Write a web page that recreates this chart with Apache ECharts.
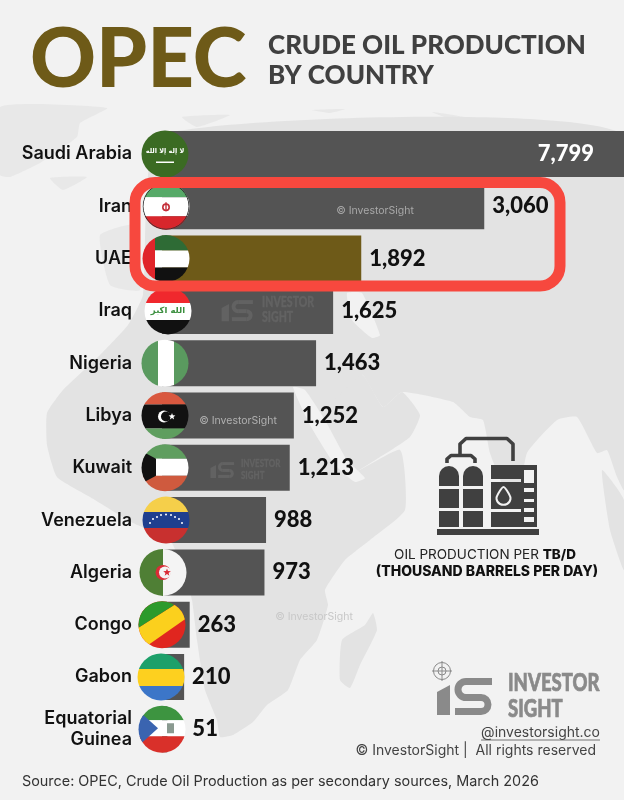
<!DOCTYPE html>
<html>
<head>
<meta charset="utf-8">
<style>
  html, body { margin: 0; padding: 0; background: #f2f2f2; }
  #chart { width: 624px; height: 800px; }
</style>
<script src="https://cdn.jsdelivr.net/npm/echarts@6/dist/echarts.min.js"></script>
</head>
<body>
<div id="chart"></div>
<script>
// Data (thousand barrels per day, March 2026)
const categories = ['Saudi Arabia', 'Iran', 'UAE', 'Iraq', 'Nigeria', 'Libya', 'Kuwait',
    'Venezuela', 'Algeria', 'Congo', 'Gabon', 'Equatorial\nGuinea'];
const values = [7799, 3060, 1892, 1625, 1463, 1252, 1213, 988, 973, 263, 210, 51];
// The Saudi bar runs off the page in the original, so the axis stops short of it
const axisMax = 4387;

const LABEL_FONT = 'Inter';
const NUMBER_FONT = 'Lato';
const BAR_GREY = '#545454';
const BROWN = '#6e5a18';
const LAND = '#e3e3e3';
const SEA = '#f2f2f2';

// Flags sit a little off the axis zero, the original was placed by hand
const flagShift = [3, 4, 4, 6, 3, 3, 3, 4, 1, 0, -1, 0];
const FLAG_R = 23.5;

function star(cx, cy, r, fill) {
    let pts = [];
    for (let i = 0; i < 10; i++) {
        let rad = i % 2 ? r * 0.42 : r;
        let a = -Math.PI / 2 + i * Math.PI / 5;
        pts.push([cx + rad * Math.cos(a), cy + rad * Math.sin(a)]);
    }
    return { type: 'polygon', shape: { points: pts }, style: { fill: fill || '#fff' } };
}

function band(y1, y2, fill) {
    return { type: 'rect', shape: { x: -25, y: y1, width: 50, height: y2 - y1 }, style: { fill: fill } };
}

function vband(x1, x2, fill) {
    return { type: 'rect', shape: { x: x1, y: -25, width: x2 - x1, height: 50 }, style: { fill: fill } };
}

function disc(cx, cy, r, fill) {
    return { type: 'circle', shape: { cx: cx, cy: cy, r: r }, style: { fill: fill } };
}

function poly(points, fill) {
    return { type: 'polygon', shape: { points: points }, style: { fill: fill } };
}

function flagText(text, y, size, fill) {
    return { type: 'text', x: 0, y: y, style: { text: text, fontSize: size, fill: fill,
        fontFamily: 'DejaVu Sans', fontWeight: 'bold', textAlign: 'center', textVerticalAlign: 'middle' } };
}

// One small drawing per country, in the same order as categories
const flagDrawings = [
    () => [band(-25, 25, '#3b6b23'), flagText('لا إله إلا الله', -3, 6.5, '#fff'),
        { type: 'rect', shape: { x: -9, y: 7.5, width: 18, height: 1.4 }, style: { fill: '#fff' } }],
    () => [band(-25, -9, '#57a968'), band(-9, 10, '#fff'), band(10, 25, '#d8262c'),
        { type: 'ring', shape: { cx: 0, cy: 1, r: 4, r0: 2.4 }, style: { fill: '#c4303a' } },
        { type: 'rect', shape: { x: -0.7, y: -4, width: 1.4, height: 9 }, style: { fill: '#c4303a' } },
        { type: 'circle', shape: { cx: 0, cy: 0, r: FLAG_R - 0.5 }, style: { fill: 'none', stroke: '#333', lineWidth: 1 } }],
    () => [vband(-25, -11, '#e0252b'), { type: 'rect', shape: { x: -11, y: -25, width: 36, height: 17 }, style: { fill: '#2e6b35' } },
        { type: 'rect', shape: { x: -11, y: -8, width: 36, height: 17 }, style: { fill: '#fff' } },
        { type: 'rect', shape: { x: -11, y: 9, width: 36, height: 16 }, style: { fill: '#111' } }],
    () => [band(-25, -8, '#f0282d'), band(-8, 9, '#fff'), band(9, 25, '#111'), flagText('الله اكبر', 0, 8.5, '#3c8f3f')],
    () => [vband(-25, -7, '#5a9a5f'), vband(-7, 9, '#fff'), vband(9, 25, '#5a9a5f')],
    () => [band(-25, -11, '#d9583f'), band(-11, 13, '#111'), band(13, 25, '#5f9e5f'),
        disc(-1, 1, 6, '#fff'), disc(1, 1, 5, '#111'), star(7, 1, 3.6)],
    () => [band(-25, -9, '#5f9e5f'), band(-9, 8, '#fff'), band(8, 25, '#cf5a3e'),
        poly([[-25, -17], [-24, -17], [-9, -9], [-9, 8], [-24, 16], [-25, 16]], '#111')],
    () => [band(-25, -8, '#f5cf4a'), band(-8, 8, '#1f3f8f'), band(8, 25, '#c8302f'),
        disc(-16, 3, 1, '#fff'), disc(-13, -1, 1, '#fff'), disc(-9, -3, 1, '#fff'), disc(-5, -5, 1, '#fff'),
        disc(0, -5.5, 1, '#fff'), disc(5, -5, 1, '#fff'), disc(9, -3, 1, '#fff'), disc(13, -1, 1, '#fff'), disc(16, 3, 1, '#fff')],
    () => [vband(-25, 0, '#4f7f35'), vband(0, 25, '#f4f4f4'), disc(0, 0, 7.5, '#d92d36'),
        disc(2, 0, 6, '#f4f4f4'), star(4, 0, 4, '#d92d36')],
    () => [poly([[-25, -25], [25, -25], [25, 25], [-25, 25]], '#e0261f'),
        poly([[-25, 4], [11, -19], [25, -25], [25, -7], [-12, 19], [-25, 25]], '#fbd01d'),
        poly([[-25, -25], [16, -25], [11, -19], [-22, 2], [-25, 4]], '#2c9a2c')],
    () => [band(-25, -8, '#1da06a'), band(-8, 9, '#fdd01f'), band(9, 25, '#3c76c8')],
    () => [band(-25, -9, '#3d9440'), band(-9, 7, '#fff'), band(7, 25, '#d9302a'),
        poly([[-25, -19], [-24, -19], [-4, -1], [-24, 17], [-25, 17]], '#3a64b0'),
        { type: 'rect', shape: { x: 5, y: -6, width: 7, height: 10 }, style: { fill: '#8a9a90' } }]
];

function renderFlag(params, api) {
    const i = api.value(1);
    const centre = api.coord([0, i]);
    return {
        type: 'group',
        x: centre[0] + flagShift[i],
        y: centre[1],
        clipPath: { type: 'circle', shape: { cx: 0, cy: 0, r: FLAG_R } },
        children: flagDrawings[i]()
    };
}

// The InvestorSight mark, drawn at 163px wide and scaled for the watermarks
function logo(x, y, scale, color, withTarget) {
    const stroke = { fill: 'none', stroke: color, lineWidth: 7 };
    const word = (text, top) => ({ type: 'text', x: 72, y: top, scaleX: 0.74,
        style: { text: text, fontFamily: 'Lato', fontWeight: 900, fontSize: 25, fill: color, stroke: color, lineWidth: 0.7 } });
    let kids = [
        poly([[1, 22], [14, 15], [14, 45], [1, 45]], color),
        { type: 'polyline', shape: { points: [[56, 11.5], [30, 11.5]] }, style: stroke },
        { type: 'arc', shape: { cx: 30, cy: 19.5, r: 8, startAngle: Math.PI / 2, endAngle: -Math.PI / 2, clockwise: true }, style: stroke },
        { type: 'polyline', shape: { points: [[30, 27.5], [45, 27.5]] }, style: stroke },
        { type: 'arc', shape: { cx: 45, cy: 34.5, r: 7, startAngle: -Math.PI / 2, endAngle: Math.PI / 2, clockwise: true }, style: stroke },
        { type: 'polyline', shape: { points: [[45, 41.5], [19, 41.5]] }, style: stroke },
        word('INVESTOR', 0),
        word('SIGHT', 26)
    ];
    if (withTarget) {
        const thin = { fill: 'none', stroke: color, lineWidth: 1 };
        kids.push({ type: 'circle', shape: { cx: 6, cy: 1, r: 8.5 }, style: thin });
        kids.push({ type: 'circle', shape: { cx: 6, cy: 1, r: 4 }, style: thin });
        kids.push({ type: 'line', shape: { x1: -4, y1: 1, x2: 16, y2: 1 }, style: thin });
        kids.push({ type: 'line', shape: { x1: 6, y1: -9, x2: 6, y2: 11 }, style: thin });
    }
    kids.forEach(k => { k.z = 40; });
    return { type: 'group', x: x, y: y, scaleX: scale, scaleY: scale, children: kids };
}

function note(text, x, y, size, fill, align) {
    return { type: 'text', x: x, y: y, z: 40, style: { text: text, fontSize: size, fill: fill, fontFamily: LABEL_FONT,
        textAlign: align || 'left', textVerticalAlign: 'middle' } };
}

function land(points, fill) {
    return { type: 'polygon', z: -10, shape: { points: points, smooth: 0.15 }, style: { fill: fill || LAND } };
}

// Faint world map behind the chart
const mapShapes = [
    land([[0, 107], [107, 108], [80, 123], [77, 137], [40, 163], [10, 177], [0, 175]], '#e8e8e8'),
    land([[50, 178], [87, 177], [63, 190]], '#e8e8e8'),
    land([[182, 117], [230, 115], [197, 127]], '#e8e8e8'),
    land([[312, 110], [345, 109], [330, 113]], '#e8e8e8'),
    land([[432, 112], [470, 118], [515, 130], [470, 126]], '#e8e8e8'),
    land([[100, 235], [135, 225], [140, 290], [110, 285]], '#e8e8e8'),
    land([[160, 135], [624, 135], [624, 490], [617, 477], [607, 450], [597, 453], [577, 417], [557, 420], [527, 453],
        [518, 500], [505, 490], [490, 453], [483, 420], [470, 417], [453, 402], [402, 392], [383, 407], [362, 375],
        [343, 477], [400, 450], [405, 510], [370, 540], [345, 560], [325, 590], [328, 605], [317, 640], [300, 660],
        [288, 690], [267, 705], [253, 722], [233, 735], [220, 737], [217, 720], [205, 690], [197, 640], [192, 600],
        [185, 575], [170, 540], [133, 523], [90, 497], [57, 477], [47, 445], [47, 413], [63, 390], [100, 355], [128, 325], [143, 295]]),
    land([[362, 375], [383, 407], [402, 392], [420, 415], [410, 437], [380, 457], [343, 477], [320, 420]]),
    land([[347, 293], [362, 293], [380, 335], [372, 338], [352, 320]], SEA),
    land([[293, 387], [305, 390], [325, 420], [347, 460], [365, 478], [355, 482], [335, 465], [310, 425]], SEA),
    land([[602, 470], [624, 500], [624, 570], [610, 530]]),
    land([[373, 613], [377, 630], [360, 665], [350, 688], [340, 680], [342, 640], [365, 625]])
];

// Oil tanks icon, right of the bars
const ICON = '#404040';
const pipe = { fill: 'none', stroke: ICON, lineWidth: 3.6, lineJoin: 'round' };
function box(x, y, w, h, r) {
    return { type: 'rect', z: 40, shape: { x: x, y: y, width: w, height: h, r: r || 0 }, style: { fill: ICON } };
}
const iconShapes = [
    box(437, 529, 102, 6),
    box(439, 466, 20, 20, [10, 10, 0, 0]), box(463, 466, 20, 20, [10, 10, 0, 0]),
    box(439, 489, 20, 19), box(463, 489, 20, 19), box(439, 511, 20, 16), box(463, 511, 20, 16),
    box(491, 465, 46, 5, [2, 2, 0, 0]), box(491, 465, 30, 14), box(491, 482, 30, 27), box(491, 512, 30, 15),
    box(521, 465, 3, 62), box(534, 465, 3, 62),
    box(524, 483, 10, 5), box(524, 492, 10, 7), box(524, 502, 10, 6), box(524, 512, 10, 5), box(524, 522, 10, 5),
    { type: 'polyline', z: 40, shape: { points: [[447, 463], [447, 459], [451, 455.5], [471, 455.5], [475, 459], [475, 463]] }, style: pipe },
    { type: 'polyline', z: 40, shape: { points: [[460, 455], [460, 444], [466, 438.5], [507, 438.5], [513, 444], [513, 461]] }, style: pipe },
    { type: 'polygon', z: 41, shape: { points: [[503.5, 487], [509, 494], [510.5, 499], [507, 504], [500, 504], [496.5, 499], [498, 494]], smooth: 0.3 },
        style: { fill: ICON, stroke: '#f2f2f2', lineWidth: 2 } }
];

const chart = echarts.init(document.getElementById('chart'));

chart.setOption({
    backgroundColor: SEA,
    animation: false,
    title: [
        { text: 'OPEC', left: 30, top: 20, padding: 0, textStyle: { fontFamily: 'Lato', fontWeight: 900, fontSize: 81.5, color: BROWN } },
        { text: 'CRUDE OIL PRODUCTION\nBY COUNTRY', left: 268, top: 31, padding: 0,
            textStyle: { fontFamily: 'Lato', fontWeight: 900, fontSize: 26, lineHeight: 30, color: '#404040' } },
        { text: 'Source: OPEC, Crude Oil Production as per secondary sources, March 2026', left: 22, top: 775, padding: 0,
            textStyle: { fontFamily: LABEL_FONT, fontWeight: 400, fontSize: 14.4, color: '#333' } }
    ],
    grid: { left: 162, right: 0, top: 127.85, bottom: 44.55 },
    xAxis: { type: 'value', min: 0, max: axisMax, show: false },
    yAxis: {
        type: 'category',
        inverse: true,
        data: categories,
        axisLine: { show: false },
        axisTick: { show: false },
        axisLabel: { interval: 0, margin: 30, color: '#111', fontFamily: LABEL_FONT, fontWeight: 600, fontSize: 18, lineHeight: 21 }
    },
    series: [
        {
            type: 'bar',
            barWidth: 46,
            clip: true,
            itemStyle: { color: BAR_GREY },
            label: {
                show: true,
                position: 'right',
                distance: 8,
                color: '#111',
                fontFamily: NUMBER_FONT,
                fontWeight: 900,
                fontSize: 22,
                formatter: p => p.value.toLocaleString('en-US')
            },
            data: values.map((v, i) => {
                if (i === 0) return { value: v, label: { position: 'insideRight', distance: 30, color: '#fff' } };
                if (categories[i] === 'UAE') return { value: v, itemStyle: { color: BROWN } };
                if (categories[i].startsWith('Equatorial')) return { value: v, label: { distance: 25 } };
                return v;
            })
        },
        {
            type: 'custom',
            z: 5,
            renderItem: renderFlag,
            encode: { x: 0, y: 1 },
            data: categories.map((c, i) => [0, i])
        }
    ],
    graphic: [
        ...mapShapes,
        ...iconShapes,
        // Red highlight around Iran and the UAE
        { type: 'rect', z: 60, shape: { x: 135, y: 182.5, width: 425, height: 103.5, r: 20 },
            style: { fill: 'none', stroke: '#f7483e', lineWidth: 11 } },
        note('© InvestorSight', 375, 211, 10.5, '#a8a8a8', 'center'),
        note('© InvestorSight', 238, 421, 10.5, '#b0b0b0', 'center'),
        note('© InvestorSight', 314, 617, 10.5, '#c8c8c8', 'center'),
        logo(221, 295.5, 0.57, '#626262', false),
        logo(210, 458.6, 0.43, '#626262', false),
        logo(436, 670, 1, '#8a8a8a', true),
        { type: 'text', x: 485, y: 555, z: 40, style: {
            text: '{a|OIL PRODUCTION PER }{b|TB/D}',
            textAlign: 'center', textVerticalAlign: 'middle',
            rich: { a: { fontFamily: LABEL_FONT, fontSize: 13.5, fill: '#222' }, b: { fontFamily: LABEL_FONT, fontSize: 13.5, fontWeight: 800, fill: '#111' } }
        } },
        { type: 'text', x: 487, y: 572, z: 40, style: { text: '(THOUSAND BARRELS PER DAY)', fontFamily: LABEL_FONT, fontWeight: 800, fontSize: 14,
            fill: '#111', textAlign: 'center', textVerticalAlign: 'middle' } },
        note('@investorsight.co', 600, 733, 14, '#444', 'right'),
        { type: 'line', z: 40, shape: { x1: 481, y1: 740, x2: 600, y2: 740 }, style: { stroke: '#555', lineWidth: 0.8 } },
        note('© InvestorSight |  All rights reserved', 596, 751, 14, '#444', 'right')
    ]
});
</script>
</body>
</html>
